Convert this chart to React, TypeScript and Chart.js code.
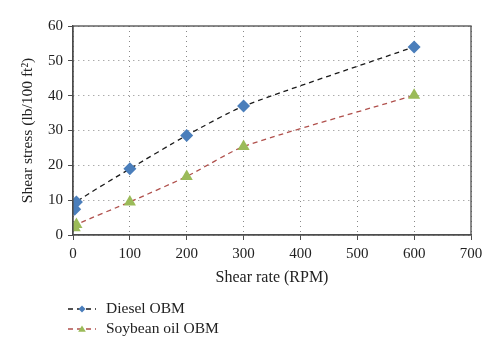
import React, { useEffect, useRef } from "react";
import { Chart, registerables } from "chart.js";

Chart.register(...registerables);

const shearRate = [3, 6, 100, 200, 300, 600];
const dieselObm = [7.4, 9.5, 19, 28.6, 37, 54];
const soybeanObm = [2.1, 3.0, 9.5, 16.8, 25.4, 40.1];
const xTicks = [0, 700, 100];
const yTicks = [0, 60, 10];
const seriesNames = ["Diesel OBM", "Soybean oil OBM"];

const FONT = "'Liberation Serif', 'Times New Roman', serif";

function drawMarker(ctx: CanvasRenderingContext2D, style: string, x: number, y: number, r: number, color: string) {
  ctx.save();
  ctx.fillStyle = color;
  ctx.beginPath();
  if (style === "rectRot") {
    ctx.moveTo(x, y - r);
    ctx.lineTo(x + r, y);
    ctx.lineTo(x, y + r);
    ctx.lineTo(x - r, y);
  } else {
    ctx.moveTo(x, y - r);
    ctx.lineTo(x + r * 1.1, y + r * 0.75);
    ctx.lineTo(x - r * 1.1, y + r * 0.75);
  }
  ctx.closePath();
  ctx.fill();
  ctx.restore();
}

const framePlugin = {
  id: "frameAndLegend",
  afterDraw(chart: any) {
    const { ctx, chartArea } = chart;
    ctx.save();
    ctx.strokeStyle = "#4d4d4d";
    ctx.lineWidth = 1.3;
    ctx.strokeRect(chartArea.left, chartArea.top, chartArea.right - chartArea.left, chartArea.bottom - chartArea.top);
    ctx.restore();

    chart.data.datasets.forEach((ds: any, i: number) => {
      const y = 309 + i * 20;
      ctx.save();
      ctx.strokeStyle = ds.borderColor;
      ctx.lineWidth = 1.3;
      ctx.setLineDash([5, 4]);
      ctx.beginPath();
      ctx.moveTo(68, y);
      ctx.lineTo(96, y);
      ctx.stroke();
      ctx.restore();
      drawMarker(ctx, ds.pointStyle, 82, y, 3.5, ds.pointBackgroundColor);
      ctx.save();
      ctx.fillStyle = "#222";
      ctx.font = `15.5px ${FONT}`;
      ctx.textBaseline = "middle";
      ctx.textAlign = "left";
      ctx.fillText(ds.label, 106, y);
      ctx.restore();
    });
  },
};

export default function App() {
  const ref = useRef<HTMLCanvasElement>(null);
  useEffect(() => {
    document.body.style.margin = "0";
    const toPts = (vals: number[]) => shearRate.map((x, i) => ({ x, y: vals[i] }));
    const chart = new Chart(ref.current!, {
      type: "line",
      data: {
        datasets: [
          {
            label: seriesNames[0],
            data: toPts(dieselObm),
            borderColor: "#1a1a1a",
            borderWidth: 1.3,
            borderDash: [5, 4],
            pointStyle: "rectRot",
            pointRadius: 6.5,
            pointBackgroundColor: "#4a7ebb",
            pointBorderColor: "#4a7ebb",
            pointBorderWidth: 0,
            tension: 0.2,
            fill: false,
          } as any,
          {
            label: seriesNames[1],
            data: toPts(soybeanObm),
            borderColor: "#b0504c",
            borderWidth: 1.3,
            borderDash: [5, 4],
            pointStyle: "triangle",
            pointRadius: 7,
            pointBackgroundColor: "#9bbb59",
            pointBorderColor: "#9bbb59",
            pointBorderWidth: 0,
            tension: 0.2,
            fill: false,
          } as any,
        ],
      },
      options: {
        animation: false,
        responsive: false,
        layout: { padding: { left: 10, right: 29, top: 26, bottom: 67 } },
        plugins: { legend: { display: false }, tooltip: { enabled: false } },
        scales: {
          x: {
            type: "linear",
            min: xTicks[0],
            max: xTicks[1],
            ticks: { stepSize: xTicks[2], color: "#222", font: { family: FONT, size: 15 }, padding: 5 },
            grid: { color: "#888", lineWidth: 1, tickLength: 5, tickColor: "#4d4d4d", tickBorderDash: [] },
            border: { display: true, color: "#4d4d4d", width: 1.3, dash: [1, 4] },
            title: { display: true, text: "Shear rate (RPM)", color: "#222", font: { family: FONT, size: 16 }, padding: { top: 0, bottom: 3 } },
            afterFit: (s: any) => { s.height = 55; },
          },
          y: {
            type: "linear",
            min: yTicks[0],
            max: yTicks[1],
            ticks: { stepSize: yTicks[2], color: "#222", font: { family: FONT, size: 15 }, padding: 5 },
            grid: { color: "#888", lineWidth: 1, tickLength: 5, tickColor: "#4d4d4d", tickBorderDash: [] },
            border: { display: true, color: "#4d4d4d", width: 1.3, dash: [1, 4] },
            title: { display: true, text: "Shear stress (lb/100 ft²)", color: "#222", font: { family: FONT, size: 15.5 }, padding: { top: 9, bottom: 0 } },
            afterFit: (s: any) => { s.width = 63; },
          },
        },
      },
      plugins: [framePlugin],
    });
    return () => chart.destroy();
  }, []);
  return (
    <div style={{ width: 500, height: 357 }}>
      <canvas ref={ref} width={500} height={357} />
    </div>
  );
}
